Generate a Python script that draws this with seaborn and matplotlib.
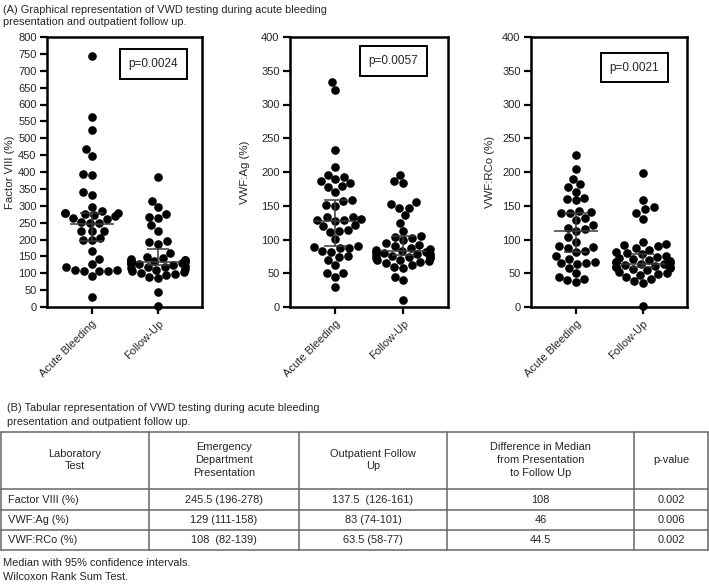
"VWD testing: acute bleeding vs follow-up"

import numpy as np
import pandas as pd
import matplotlib
matplotlib.use("Agg")
import matplotlib.pyplot as plt
import seaborn as sns

# Data
groups = ["Acute Bleeding", "Follow-Up"]

fviii_acute = [744, 562, 525, 468, 447, 394, 392, 342, 331, 297, 283, 280, 279, 278,
               276, 272, 270, 263, 261, 252, 250, 249, 226, 225, 224, 203, 200, 198,
               166, 141, 127, 119, 110, 109, 108, 107, 106, 93, 31]
fviii_follow = [386, 315, 295, 275, 268, 265, 242, 225, 195, 192, 188, 160, 148, 145,
                142, 140, 138, 136, 135, 133, 132, 130, 130, 128, 126, 125, 122, 120,
                118, 115, 112, 110, 108, 105, 100, 98, 95, 90, 85, 45, 2]
fviii_med = [245, 132]
fviii_lo = [196, 124]
fviii_hi = [278, 171]

ag_acute = [334, 322, 233, 208, 195, 193, 189, 186, 183, 179, 178, 170, 158, 157,
            151, 150, 134, 133, 130, 129, 129, 128, 121, 120, 114, 113, 111, 101,
            90, 89, 88, 87, 83, 82, 75, 74, 70, 62, 51, 50, 45, 30]
ag_follow = [196, 186, 184, 155, 152, 147, 146, 136, 125, 113, 105, 104, 102, 100,
             95, 92, 90, 88, 86, 84, 83, 82, 81, 80, 79, 78, 77, 76, 75, 74, 73, 72,
             70, 69, 68, 67, 65, 62, 60, 58, 44, 40, 10]
ag_med = [128, 83]
ag_lo = [91, 77]
ag_hi = [158, 105]

rco_acute = [225, 204, 190, 182, 178, 171, 162, 160, 158, 142, 141, 140, 139, 132,
             129, 121, 117, 115, 112, 104, 97, 90, 89, 88, 83, 82, 75, 71, 66, 65,
             65, 64, 58, 50, 45, 42, 40, 37]
rco_follow = [198, 158, 148, 145, 140, 131, 97, 94, 92, 90, 88, 85, 82, 80, 78, 76,
              74, 72, 71, 70, 68, 67, 66, 65, 64, 63, 62, 61, 60, 60, 59, 58, 57, 55,
              52, 50, 49, 48, 45, 42, 38, 36, 1]
rco_med = [112, 64]
rco_lo = [82, 60]
rco_hi = [140, 79]

ylabels = ["Factor VIII (%)", "VWF:Ag (%)", "VWF:RCo (%)"]
ymaxes = [800, 400, 400]
pvals = ["p=0.0024", "p=0.0057", "p=0.0021"]

# Table contents
table_header = ["Laboratory\nTest", "Emergency\nDepartment\nPresentation",
                "Outpatient Follow\nUp", "Difference in Median\nfrom Presentation\nto Follow Up",
                "p-value"]
table_tests = ["Factor VIII (%)", "VWF:Ag (%)", "VWF:RCo (%)"]
table_ed = ["245.5 (196-278)", "129 (111-158)", "108  (82-139)"]
table_fu = ["137.5  (126-161)", "83 (74-101)", "63.5 (58-77)"]
table_diff = ["108", "46", "44.5"]
table_p = ["0.002", "0.006", "0.002"]

sns.set_style("ticks")
plt.rcParams["font.family"] = ["Liberation Sans", "DejaVu Sans"]

W, H = 709, 584
fig = plt.figure(figsize=(W / 100, H / 100), dpi=100)

# background layout axes in pixel coordinates (table + captions)
bg = fig.add_axes([0, 0, 1, 1])
bg.set_xlim(0, W)
bg.set_ylim(H, 0)
bg.axis("off")

fs = 7.9
bg.text(3, 10, "(A) Graphical representation of VWD testing during acute bleeding",
        fontsize=fs, va="center")
bg.text(3, 22, "presentation and outpatient follow up.", fontsize=fs, va="center")
bg.text(7, 408, "(B) Tabular representation of VWD testing during acute bleeding",
        fontsize=fs, va="center")
bg.text(7, 422, "presentation and outpatient follow up.", fontsize=fs, va="center")
bg.text(3, 563, "Median with 95% confidence intervals.", fontsize=fs, va="center")
bg.text(3, 577, "Wilcoxon Rank Sum Test.", fontsize=fs, va="center")

col_x = [0.5, 149, 299, 447, 634, 708]
row_y = [431.7, 489.3, 510, 530, 550]
lc = "#666666"
for y in row_y:
    bg.plot([col_x[0], col_x[-1]], [y, y], color=lc, lw=1.1)
for x in col_x:
    bg.plot([x, x], [row_y[0], row_y[-1]], color=lc, lw=1.1)

centers = [(col_x[i] + col_x[i + 1]) / 2 for i in range(5)]
for i, h in enumerate(table_header):
    bg.text(centers[i], 460, h, fontsize=fs, ha="center", va="center", linespacing=1.35)
rows = list(zip(table_tests, table_ed, table_fu, table_diff, table_p))
for r, row in enumerate(rows):
    yc = (row_y[r + 1] + row_y[r + 2]) / 2
    bg.text(8, yc, row[0], fontsize=fs, ha="left", va="center")
    for i in range(1, 5):
        bg.text(centers[i], yc, row[i], fontsize=fs, ha="center", va="center")

# scatter panels
panels = [
    (fviii_acute, fviii_follow, fviii_med, fviii_lo, fviii_hi),
    (ag_acute, ag_follow, ag_med, ag_lo, ag_hi),
    (rco_acute, rco_follow, rco_med, rco_lo, rco_hi),
]
rects = [(47, 155), (290, 158), (531, 156)]
box_pos = [(0.687, 0.90), (0.656, 0.911), (0.663, 0.887)]
label_x = [-0.205, -0.253, -0.231]
top_px, bot_px = 37, 307

for k, (acute, follow, med, lo, hi) in enumerate(panels):
    left, width = rects[k]
    ax = fig.add_axes([left / W, 1 - bot_px / H, width / W, (bot_px - top_px) / H])
    df = pd.DataFrame({
        "group": [groups[0]] * len(acute) + [groups[1]] * len(follow),
        "value": acute + follow,
    })
    ax.set_xlim(-0.67, 1.66)
    ax.set_ylim(0, ymaxes[k])
    sns.swarmplot(data=df, x="group", y="value", order=groups, color="black",
                  size=6.2, ax=ax, zorder=2, warn_thresh=1)
    for c in ax.collections:
        c.set_clip_on(False)
    ax.set_xlim(-0.67, 1.66)
    ax.set_ylim(0, ymaxes[k])

    x = np.arange(2)
    ax.hlines(med, x - 0.33, x + 0.33, color="#3a3a3a", lw=1.1, zorder=3)
    ax.vlines(x, lo, hi, color="#3a3a3a", lw=1.1, zorder=3)
    ax.hlines(lo, x - 0.17, x + 0.17, color="#3a3a3a", lw=1.1, zorder=3)
    ax.hlines(hi, x - 0.17, x + 0.17, color="#3a3a3a", lw=1.1, zorder=3)

    ax.set_yticks(np.arange(0, ymaxes[k] + 1, 50))
    ax.set_xlabel("")
    ax.set_ylabel(ylabels[k], fontsize=8.2)
    ax.yaxis.set_label_coords(label_x[k], 0.5)
    ax.tick_params(width=1.6, length=5, labelsize=8, color="black")
    ax.tick_params(axis="y", pad=2.5)
    plt.setp(ax.get_xticklabels(), rotation=45, ha="right", rotation_mode="anchor")
    for s in ax.spines.values():
        s.set_visible(True)
        s.set_linewidth(1.8)
        s.set_color("black")
    ax.text(box_pos[k][0], box_pos[k][1], pvals[k], transform=ax.transAxes,
            fontsize=8.5, ha="center", va="center",
            bbox=dict(boxstyle="square,pad=0.75", fc="white", ec="black", lw=1.4))

fig.savefig("out.png", dpi=100)
